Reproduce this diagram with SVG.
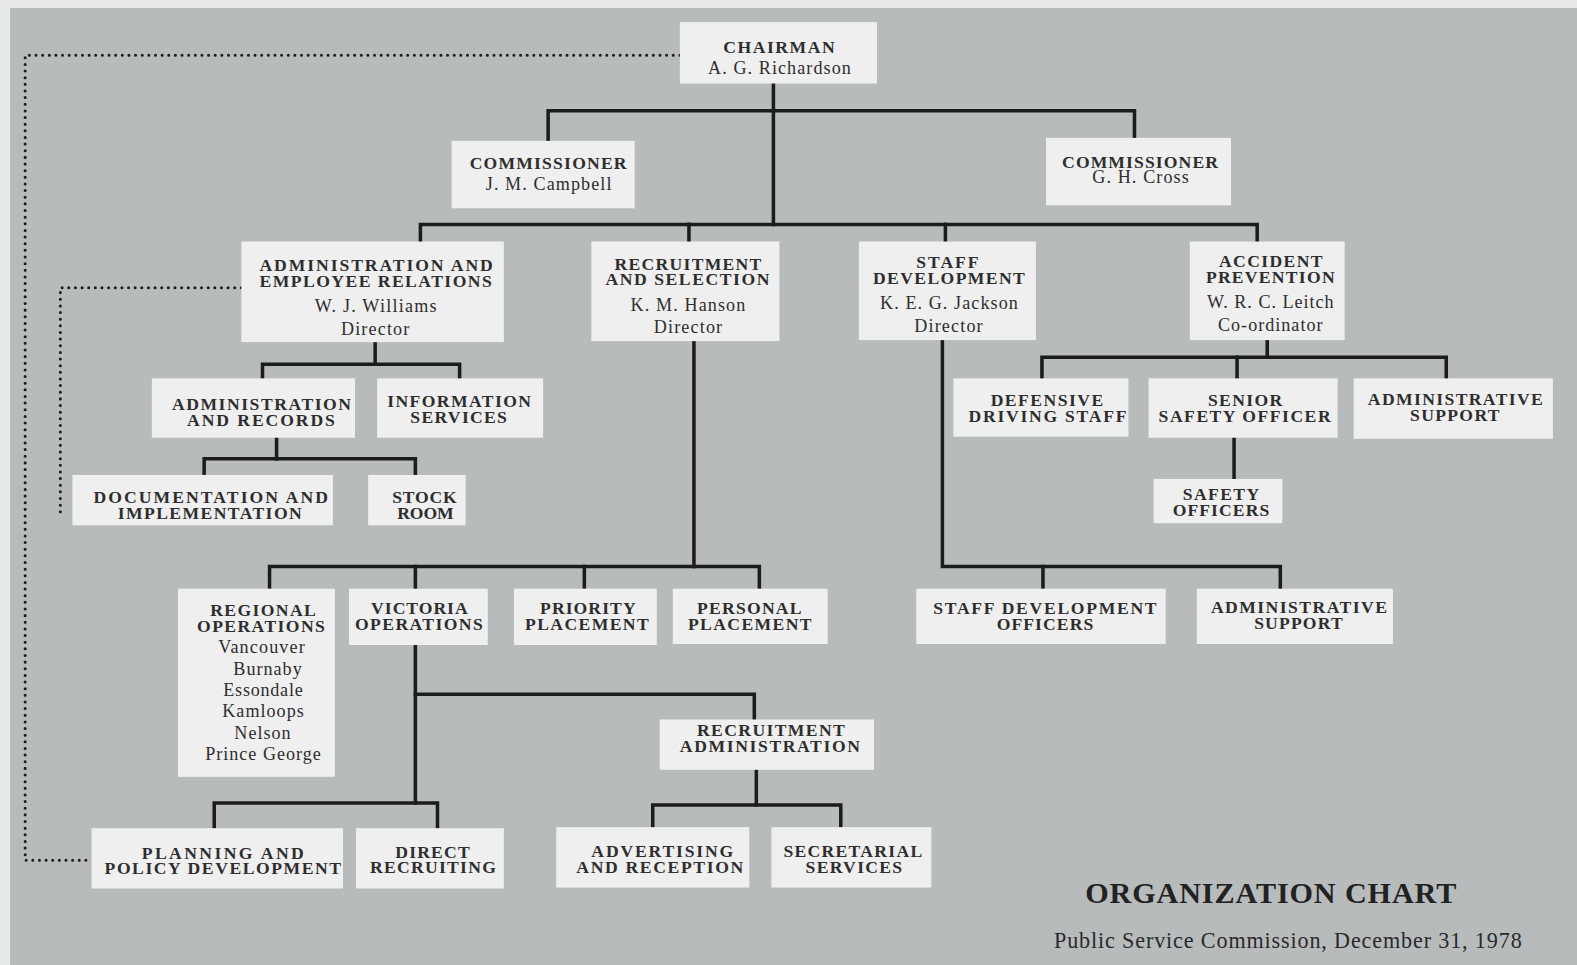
<svg xmlns="http://www.w3.org/2000/svg" width="1577" height="965" viewBox="0 0 1577 965">
<style>
.bg{fill:#e8e9e9}
.panel{fill:#b8bbbc}
.box{fill:#efefef}
text{font-family:"Liberation Serif","Times New Roman",serif;fill:#2e2e2e;text-anchor:middle}
.c{font-size:17.5px;font-weight:bold}
.n{font-size:18px}
.ln{fill:none;stroke:#1c1c1c;stroke-width:3.5;stroke-linejoin:miter;stroke-linecap:square}
.dot{fill:none;stroke:#1c1c1c;stroke-width:3;stroke-linecap:round;stroke-dasharray:0 6.6}
.title{font-size:30px;font-weight:bold;fill:#222}
.sub{font-size:22px;fill:#2a2a2a}
</style>
<rect class="bg" x="0" y="0" width="1577" height="965"/>
<g transform="scale(1.00574 1.00626)">
<rect class="panel" x="10" y="8" width="1570" height="960"/>

<g id="connectors">
<path class="dot" d="M676,55 H25 V855 H91"/>
<path class="dot" d="M240,286 H60 V510"/>
<path class="ln" d="M769,83 V223"/>
<path class="ln" d="M545,140 V110 H1128 V137"/>
<path class="ln" d="M418,240 V223 H1250 V240"/>
<path class="ln" d="M685,223 V240"/>
<path class="ln" d="M940,223 V240"/>
<path class="ln" d="M373,340 V362"/>
<path class="ln" d="M261,376 V362 H457 V376"/>
<path class="ln" d="M275,435 V456"/>
<path class="ln" d="M203,472 V456 H413 V472"/>
<path class="ln" d="M690,339 V563"/>
<path class="ln" d="M268,585 V563 H755 V585"/>
<path class="ln" d="M413,563 V585"/>
<path class="ln" d="M581,563 V585"/>
<path class="ln" d="M413,641 V798"/>
<path class="ln" d="M413,690 H750 V715"/>
<path class="ln" d="M213,823 V798 H435 V823"/>
<path class="ln" d="M752,765 V800"/>
<path class="ln" d="M649,822 V800 H836 V822"/>
<path class="ln" d="M937,338 V563 H1273 V585"/>
<path class="ln" d="M1037,563 V585"/>
<path class="ln" d="M1260,338 V355"/>
<path class="ln" d="M1036,376 V355 H1438 V376"/>
<path class="ln" d="M1230,355 V376"/>
<path class="ln" d="M1227,435 V476"/>
</g>

<g id="chairman"><rect class="box" x="676" y="22" width="196" height="61"/>
<text class="c" x="774.5" y="52.5" textLength="111" lengthAdjust="spacing">CHAIRMAN</text>
<text class="n" x="775" y="73.5" textLength="142" lengthAdjust="spacing">A. G. Richardson</text></g>

<g id="comm-campbell"><rect class="box" x="449" y="140" width="182" height="67"/>
<text class="c" x="545" y="167.5" textLength="156" lengthAdjust="spacing">COMMISSIONER</text>
<text class="n" x="545.5" y="188.5" textLength="125" lengthAdjust="spacing">J. M. Campbell</text></g>

<g id="comm-cross"><rect class="box" x="1040" y="137" width="184" height="67"/>
<text class="c" x="1133.5" y="166.5" textLength="155" lengthAdjust="spacing">COMMISSIONER</text>
<text class="n" x="1134" y="181.5" textLength="96" lengthAdjust="spacing">G. H. Cross</text></g>

<g id="admin-employee"><rect class="box" x="240" y="240" width="261" height="100"/>
<text class="c" x="374" y="269.5" textLength="232" lengthAdjust="spacing">ADMINISTRATION AND</text>
<text class="c" x="373.5" y="285.5" textLength="231" lengthAdjust="spacing">EMPLOYEE RELATIONS</text>
<text class="n" x="373.5" y="310.5" textLength="121" lengthAdjust="spacing">W. J. Williams</text>
<text class="n" x="373" y="332.5" textLength="68" lengthAdjust="spacing">Director</text></g>

<g id="recruit-selection"><rect class="box" x="588" y="240" width="187" height="99"/>
<text class="c" x="684" y="268.5" textLength="146" lengthAdjust="spacing">RECRUITMENT</text>
<text class="c" x="683.5" y="283.5" textLength="163" lengthAdjust="spacing">AND SELECTION</text>
<text class="n" x="684" y="309.5" textLength="114" lengthAdjust="spacing">K. M. Hanson</text>
<text class="n" x="684" y="330.5" textLength="68" lengthAdjust="spacing">Director</text></g>

<g id="staff-dev"><rect class="box" x="854" y="240" width="176" height="98"/>
<text class="c" x="942" y="266.5" textLength="62" lengthAdjust="spacing">STAFF</text>
<text class="c" x="943.5" y="282.5" textLength="151" lengthAdjust="spacing">DEVELOPMENT</text>
<text class="n" x="943.5" y="307.5" textLength="137" lengthAdjust="spacing">K. E. G. Jackson</text>
<text class="n" x="943" y="329.5" textLength="68" lengthAdjust="spacing">Director</text></g>

<g id="accident-prev"><rect class="box" x="1183" y="240" width="154" height="98"/>
<text class="c" x="1263.5" y="265.5" textLength="103" lengthAdjust="spacing">ACCIDENT</text>
<text class="c" x="1263" y="281.5" textLength="128" lengthAdjust="spacing">PREVENTION</text>
<text class="n" x="1263" y="306.5" textLength="126" lengthAdjust="spacing">W. R. C. Leitch</text>
<text class="n" x="1263" y="328.5" textLength="104" lengthAdjust="spacing">Co-ordinator</text></g>

<g id="admin-records"><rect class="box" x="151" y="376" width="202" height="59"/>
<text class="c" x="260" y="407.5" textLength="178" lengthAdjust="spacing">ADMINISTRATION</text>
<text class="c" x="259.5" y="423.5" textLength="147" lengthAdjust="spacing">AND RECORDS</text></g>

<g id="info-services"><rect class="box" x="375" y="376" width="165" height="59"/>
<text class="c" x="456.5" y="404.5" textLength="143" lengthAdjust="spacing">INFORMATION</text>
<text class="c" x="456" y="420.5" textLength="96" lengthAdjust="spacing">SERVICES</text></g>

<g id="doc-impl"><rect class="box" x="72" y="472" width="259" height="50"/>
<text class="c" x="209.5" y="499.5" textLength="233" lengthAdjust="spacing">DOCUMENTATION AND</text>
<text class="c" x="208.5" y="515.5" textLength="183" lengthAdjust="spacing">IMPLEMENTATION</text></g>

<g id="stock-room"><rect class="box" x="366" y="472" width="97" height="50"/>
<text class="c" x="422" y="499.5" textLength="64" lengthAdjust="spacing">STOCK</text>
<text class="c" x="423" y="515.5" textLength="56" lengthAdjust="spacing">ROOM</text></g>

<g id="defensive-driving"><rect class="box" x="948" y="376" width="174" height="58"/>
<text class="c" x="1041" y="403.5" textLength="112" lengthAdjust="spacing">DEFENSIVE</text>
<text class="c" x="1041.5" y="419.5" textLength="157" lengthAdjust="spacing">DRIVING STAFF</text></g>

<g id="senior-safety"><rect class="box" x="1142" y="376" width="188" height="59"/>
<text class="c" x="1238" y="403.5" textLength="74" lengthAdjust="spacing">SENIOR</text>
<text class="c" x="1237.5" y="419.5" textLength="171" lengthAdjust="spacing">SAFETY OFFICER</text></g>

<g id="admin-support-ap"><rect class="box" x="1346" y="376" width="198" height="60"/>
<text class="c" x="1447" y="402.5" textLength="174" lengthAdjust="spacing">ADMINISTRATIVE</text>
<text class="c" x="1446.5" y="418.5" textLength="89" lengthAdjust="spacing">SUPPORT</text></g>

<g id="safety-officers"><rect class="box" x="1147" y="476" width="128" height="44"/>
<text class="c" x="1214" y="496.5" textLength="76" lengthAdjust="spacing">SAFETY</text>
<text class="c" x="1214" y="512.5" textLength="96" lengthAdjust="spacing">OFFICERS</text></g>

<g id="regional-ops"><rect class="box" x="177" y="585" width="156" height="187"/>
<text class="c" x="261.5" y="612.5" textLength="105" lengthAdjust="spacing">REGIONAL</text>
<text class="c" x="259.5" y="628.5" textLength="127" lengthAdjust="spacing">OPERATIONS</text>
<text class="n" x="260" y="648.5" textLength="86" lengthAdjust="spacing">Vancouver</text>
<text class="n" x="266" y="670.5" textLength="68" lengthAdjust="spacing">Burnaby</text>
<text class="n" x="261.5" y="691.5" textLength="79" lengthAdjust="spacing">Essondale</text>
<text class="n" x="261.5" y="712.5" textLength="81" lengthAdjust="spacing">Kamloops</text>
<text class="n" x="261" y="734.5" textLength="56" lengthAdjust="spacing">Nelson</text>
<text class="n" x="261.5" y="755.5" textLength="115" lengthAdjust="spacing">Prince George</text></g>

<g id="victoria-ops"><rect class="box" x="347" y="585" width="138" height="56"/>
<text class="c" x="417" y="610.5" textLength="96" lengthAdjust="spacing">VICTORIA</text>
<text class="c" x="416.5" y="626.5" textLength="127" lengthAdjust="spacing">OPERATIONS</text></g>

<g id="priority-placement"><rect class="box" x="511" y="585" width="142" height="56"/>
<text class="c" x="584.5" y="610.5" textLength="95" lengthAdjust="spacing">PRIORITY</text>
<text class="c" x="583.5" y="626.5" textLength="123" lengthAdjust="spacing">PLACEMENT</text></g>

<g id="personal-placement"><rect class="box" x="669" y="585" width="154" height="55"/>
<text class="c" x="745" y="610.5" textLength="104" lengthAdjust="spacing">PERSONAL</text>
<text class="c" x="745.5" y="626.5" textLength="123" lengthAdjust="spacing">PLACEMENT</text></g>

<g id="staff-dev-officers"><rect class="box" x="911" y="585" width="248" height="55"/>
<text class="c" x="1039" y="610.5" textLength="222" lengthAdjust="spacing">STAFF DEVELOPMENT</text>
<text class="c" x="1039" y="626.5" textLength="96" lengthAdjust="spacing">OFFICERS</text></g>

<g id="admin-support-sd"><rect class="box" x="1190" y="585" width="195" height="55"/>
<text class="c" x="1291.5" y="609.5" textLength="175" lengthAdjust="spacing">ADMINISTRATIVE</text>
<text class="c" x="1291" y="625.5" textLength="88" lengthAdjust="spacing">SUPPORT</text></g>

<g id="recruit-admin"><rect class="box" x="656" y="715" width="213" height="50"/>
<text class="c" x="766.5" y="731.5" textLength="147" lengthAdjust="spacing">RECRUITMENT</text>
<text class="c" x="765.5" y="747.5" textLength="179" lengthAdjust="spacing">ADMINISTRATION</text></g>

<g id="planning-policy"><rect class="box" x="91" y="823" width="250" height="60"/>
<text class="c" x="221.5" y="853.5" textLength="161" lengthAdjust="spacing">PLANNING AND</text>
<text class="c" x="221.5" y="868.5" textLength="235" lengthAdjust="spacing">POLICY DEVELOPMENT</text></g>

<g id="direct-recruiting"><rect class="box" x="354" y="823" width="147" height="60"/>
<text class="c" x="430" y="852.5" textLength="74" lengthAdjust="spacing">DIRECT</text>
<text class="c" x="430.5" y="867.5" textLength="125" lengthAdjust="spacing">RECRUITING</text></g>

<g id="advertising-reception"><rect class="box" x="553" y="822" width="192" height="60"/>
<text class="c" x="658.5" y="851.5" textLength="141" lengthAdjust="spacing">ADVERTISING</text>
<text class="c" x="656" y="867.5" textLength="166" lengthAdjust="spacing">AND RECEPTION</text></g>

<g id="secretarial-services"><rect class="box" x="767" y="822" width="159" height="60"/>
<text class="c" x="848" y="851.5" textLength="138" lengthAdjust="spacing">SECRETARIAL</text>
<text class="c" x="849" y="867.5" textLength="96" lengthAdjust="spacing">SERVICES</text></g>

<g id="title">
<text class="title" x="1263.5" y="897.5" textLength="369" lengthAdjust="spacing">ORGANIZATION  CHART</text>
<text class="sub" x="1280.5" y="942" textLength="465" lengthAdjust="spacing">Public Service Commission, December 31, 1978</text>
</g>
</g>
</svg>
